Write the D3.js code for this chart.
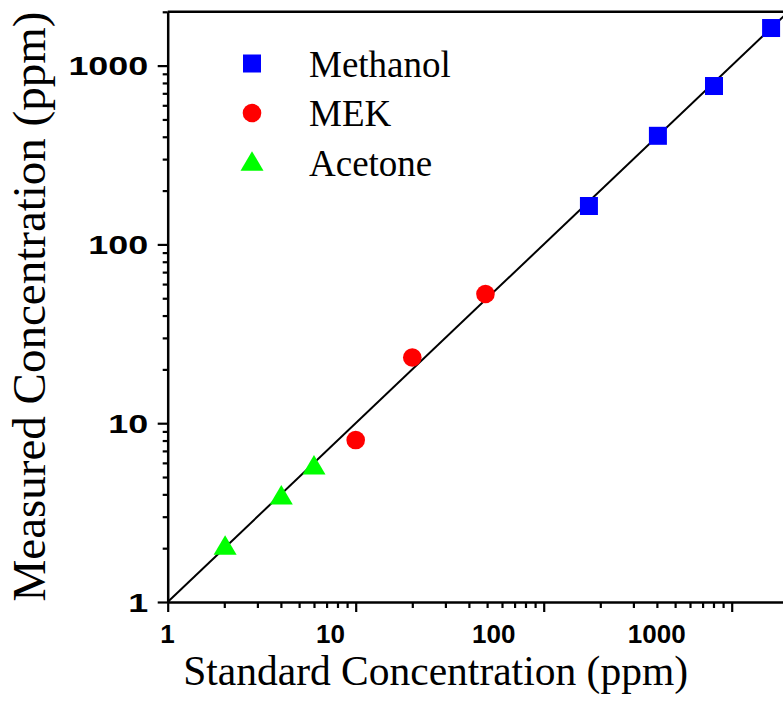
<!DOCTYPE html>
<html>
<head>
<meta charset="utf-8">
<script src="https://cdn.jsdelivr.net/npm/d3@7"></script>
<style>
  body { margin: 0; background: #fff; }
</style>
</head>
<body>
<div id="chart"></div>
<script>
// data (standard vs measured, ppm)
var methanolStd  = [174, 405, 805, 1620];
var methanolMeas = [164, 405, 769, 1623];
var mekStd       = [10, 20, 49];
var mekMeas      = [8.05, 23.3, 52.8];
var acetoneStd   = [2.02, 4.02, 6.0];
var acetoneMeas  = [2.08, 3.97, 5.84];

var seriesNames  = ["Methanol", "MEK", "Acetone"];
var seriesColors = ["#0000ff", "#ff0000", "#00ff00"];
var seriesShapes = ["square", "circle", "triangle"];
var majorTicks   = [1, 10, 100, 1000];
var axisDomain   = [1, 2000];
var xTitle = "Standard Concentration (ppm)";
var yTitle = "Measured Concentration (ppm)";

var margin = { top: 11.8, left: 167.7 };
var width = 620.6, height = 590.2;

var svg = d3.select("#chart").append("svg")
    .attr("width", 783)
    .attr("height", 714);

var g = svg.append("g")
    .attr("transform", "translate(" + margin.left + "," + margin.top + ")");

var x = d3.scaleLog().domain(axisDomain).range([0, width]);
var y = d3.scaleLog().domain(axisDomain).range([height, 0]);

function isMajor(d) { return majorTicks.indexOf(d) >= 0; }

// draw a marker shape centred on 0,0
function marker(sel, shape, color) {
    if (shape === "square") {
        sel.append("rect").attr("x", -9).attr("y", -9)
            .attr("width", 18).attr("height", 18).attr("fill", color);
    } else if (shape === "circle") {
        sel.append("circle").attr("r", 9.3).attr("fill", color);
    } else {
        sel.append("path").attr("d", "M0,-10L11.5,9.5L-11.5,9.5Z").attr("fill", color);
    }
}

// frame (top and right)
g.append("line")
    .attr("x1", 0).attr("x2", width)
    .attr("y1", 0).attr("y2", 0)
    .attr("stroke", "#000").attr("stroke-width", 2.5);
g.append("line")
    .attr("x1", width).attr("x2", width)
    .attr("y1", 0).attr("y2", height)
    .attr("stroke", "#000").attr("stroke-width", 2.5);

// x axis
var xAxis = g.append("g")
    .attr("transform", "translate(0," + height + ")")
    .call(d3.axisBottom(x).tickValues(x.ticks()).tickSizeOuter(0));
xAxis.select(".domain").attr("stroke-width", 2.5);
xAxis.selectAll(".tick line")
    .attr("stroke-width", 2.2)
    .attr("y2", function(d) { return isMajor(d) ? 10 : 6; });
xAxis.selectAll(".tick text").filter(function(d) { return !isMajor(d); }).remove();
xAxis.selectAll(".tick text")
    .text(function(d) { return d; })
    .attr("y", 23)
    .attr("dx", function(d) { return -0.75 - 24.9 * Math.log10(d); })
    .style("font-family", "'Liberation Sans', Arial, sans-serif")
    .style("font-weight", "bold")
    .style("font-size", "26px")
    .attr("fill", "#000");

// y axis
var yAxis = g.append("g")
    .call(d3.axisLeft(y).tickValues(y.ticks()).tickSizeOuter(0));
yAxis.select(".domain").attr("stroke-width", 2.5);
yAxis.selectAll(".tick line")
    .attr("stroke-width", 2.2)
    .attr("x2", function(d) { return isMajor(d) ? -10 : -5; });
yAxis.selectAll(".tick text").filter(function(d) { return !isMajor(d); }).remove();
yAxis.selectAll(".tick text")
    .text(function(d) { return d; })
    .attr("x", -19.5 / 1.38)
    .attr("dy", "0.36em")
    .attr("transform", "scale(1.38,1)")
    .style("font-family", "'Liberation Sans', Arial, sans-serif")
    .style("font-weight", "bold")
    .style("font-size", "26px")
    .attr("fill", "#000");

// 1:1 line
g.append("line")
    .attr("x1", x(axisDomain[0])).attr("y1", y(axisDomain[0]))
    .attr("x2", x(axisDomain[1])).attr("y2", y(axisDomain[1]))
    .attr("stroke", "#000").attr("stroke-width", 2);

// points
var series = [
    { std: methanolStd, meas: methanolMeas },
    { std: mekStd, meas: mekMeas },
    { std: acetoneStd, meas: acetoneMeas }
];
series.forEach(function(s, i) {
    s.std.forEach(function(v, j) {
        var p = g.append("g")
            .attr("transform", "translate(" + x(v) + "," + y(s.meas[j]) + ")");
        marker(p, seriesShapes[i], seriesColors[i]);
    });
});

// legend
var legend = svg.append("g").attr("transform", "translate(252,76.7)");
seriesNames.forEach(function(name, i) {
    var row = legend.append("g").attr("transform", "translate(0," + (i * 49.5) + ")");
    var m = row.append("g").attr("transform", "translate(0," + (i === 2 ? -14.5 : -13.2) + ")");
    marker(m, seriesShapes[i], seriesColors[i]);
    row.append("text")
        .attr("x", 57)
        .text(name)
        .style("font-family", "'Liberation Serif', 'Times New Roman', serif")
        .style("font-size", "37px");
});

// axis titles
svg.append("text")
    .attr("x", 435.6).attr("y", 685)
    .attr("text-anchor", "middle")
    .style("font-family", "'Liberation Serif', 'Times New Roman', serif")
    .style("font-size", "41.5px")
    .text(xTitle);

svg.append("text")
    .attr("transform", "translate(44.5,306.5) rotate(-90)")
    .attr("text-anchor", "middle")
    .style("font-family", "'Liberation Serif', 'Times New Roman', serif")
    .style("font-size", "47px")
    .text(yTitle);
</script>
</body>
</html>
